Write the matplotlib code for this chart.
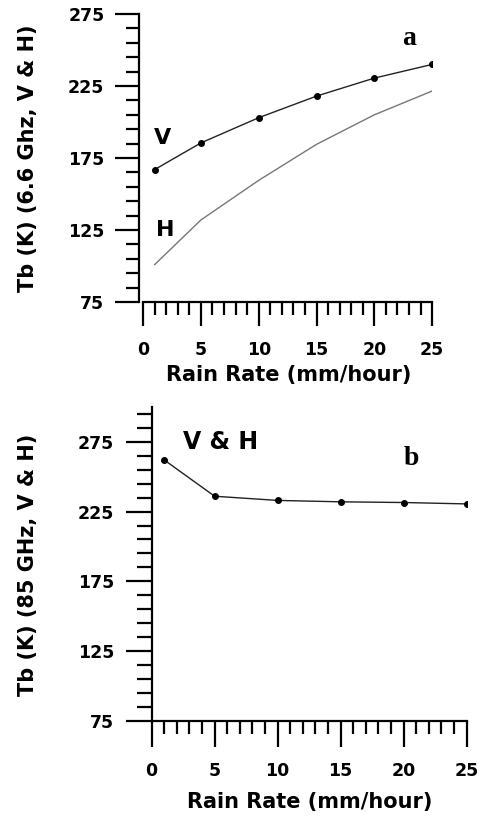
import numpy as np
import matplotlib
matplotlib.use("Agg")
import matplotlib.pyplot as plt
from matplotlib.ticker import FixedLocator

# ── data ──────────────────────────────────────
rain = [1, 5, 10, 15, 20, 25]
tb_v_66 = [167, 185.5, 203, 218, 230.5, 240]
tb_h_66 = [101, 132, 159.5, 184.5, 205, 221.5]
tb_vh_85 = [262, 236, 233, 232, 231.5, 230.5]

x_major = [0, 5, 10, 15, 20, 25]
y_major = [75, 125, 175, 225, 275]

plt.rcParams["font.family"] = ["DejaVu Sans"]
plt.rcParams["font.weight"] = "bold"

fig = plt.figure(figsize=(4.83, 8.16), dpi=100)


def style_axes(ax, ymax, xmaj_len, xmin_len, ymaj_len, ymin_len):
    for s in ("top", "right"):
        ax.spines[s].set_visible(False)
    for s in ("left", "bottom"):
        ax.spines[s].set_linewidth(1.6)
    ax.xaxis.set_major_locator(FixedLocator(x_major))
    ax.xaxis.set_minor_locator(FixedLocator([v for v in range(0, 26) if v % 5]))
    ax.yaxis.set_major_locator(FixedLocator(y_major))
    ax.yaxis.set_minor_locator(FixedLocator([v for v in range(85, ymax, 10) if v not in y_major]))
    ax.tick_params(axis="x", which="major", direction="out", length=xmaj_len, width=1.6,
                   labelsize=12.5, pad=11)
    ax.tick_params(axis="x", which="minor", direction="out", length=xmin_len, width=1.6)
    ax.tick_params(axis="y", which="major", direction="out", length=ymaj_len, width=1.6,
                   labelsize=12.5, pad=8)
    ax.tick_params(axis="y", which="minor", direction="out", length=ymin_len, width=1.6)
    for lab in ax.get_xticklabels() + ax.get_yticklabels():
        lab.set_fontweight("bold")


# ── panel a ───────────────────────────────────
ax1 = fig.add_axes([0.288, 0.6299, 0.6066, 0.3529])
ax1.plot(rain, tb_v_66, color="#222222", lw=1.0, marker="o", ms=4, mfc="black", mec="black")
ax1.plot(rain, tb_h_66, color="#777777", lw=1.0)
ax1.set_xlim(-0.35, 25)
ax1.set_ylim(75, 275)
ax1.spines["bottom"].set_bounds(0, 25)
style_axes(ax1, 275, 17, 9.5, 17, 9.5)
ax1.set_ylabel("Tb (K) (6.6 Ghz, V & H)", fontsize=15, fontweight="bold", va="center")
ax1.yaxis.set_label_coords(-0.379, 0.5)
ax1.set_xlabel("Rain Rate (mm/hour)", fontsize=15, fontweight="bold", va="center")
ax1.xaxis.set_label_coords(0.509, -0.253)
ax1.text(0.95, 189, "V", fontsize=16, fontweight="bold", ha="left", va="center")
ax1.text(1.1, 125, "H", fontsize=16, fontweight="bold", ha="left", va="center")
ax1.text(23.0, 258, "a", fontsize=20, fontweight="bold", family="Liberation Serif",
         ha="center", va="center")

# ── panel b ───────────────────────────────────
ax2 = fig.add_axes([0.314, 0.1168, 0.652, 0.3844])
ax2.plot(rain, tb_vh_85, color="#222222", lw=1.0, marker="o", ms=4, mfc="black", mec="black")
ax2.set_xlim(0, 25)
ax2.set_ylim(75, 300)
style_axes(ax2, 300, 19, 9.5, 19, 10.5)
ax2.set_ylabel("Tb (K) (85 GHz, V & H)", fontsize=15, fontweight="bold", va="center")
ax2.yaxis.set_label_coords(-0.393, 0.496)
ax2.set_xlabel("Rain Rate (mm/hour)", fontsize=15, fontweight="bold", va="center")
ax2.xaxis.set_label_coords(0.503, -0.259)
ax2.text(2.5, 275, "V & H", fontsize=17, fontweight="bold", ha="left", va="center")
ax2.text(20.6, 263, "b", fontsize=20, fontweight="bold", family="Liberation Serif",
         ha="center", va="center")

fig.savefig("out.png", dpi=100)
